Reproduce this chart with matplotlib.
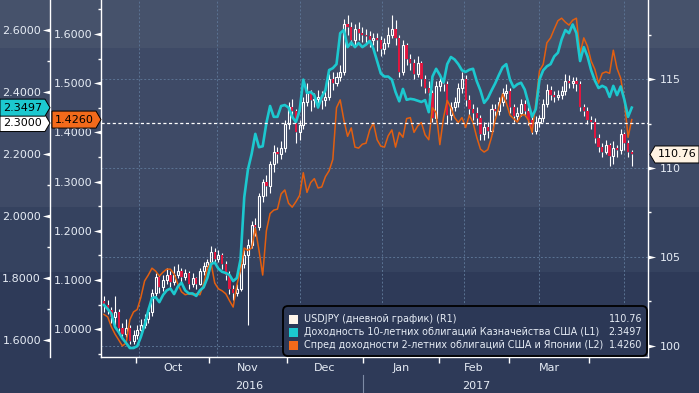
import numpy as np
import matplotlib.pyplot as plt
from matplotlib.path import Path
from matplotlib.patches import Rectangle, Polygon, FancyBboxPatch
from matplotlib.transforms import blended_transform_factory, IdentityTransform

# --- данные ---
usdjpy_open0 = 102.5
usdjpy_close = [
    102.3, 102.0, 101.6, 101.9, 101.0, 100.7, 101.0, 100.3, 100.6, 100.9,
    101.2, 101.5, 101.9, 103.0, 103.9, 103.3, 103.7, 104.0, 103.6, 104.0,
    104.2, 103.9, 104.1, 103.5, 103.8, 103.5, 104.2, 104.5, 104.7, 105.3,
    104.9, 105.1, 104.6, 104.0, 103.2, 103.0, 103.2, 104.6, 105.1, 105.7,
    106.8, 106.7, 108.4, 109.2, 109.0, 110.2, 110.9, 110.8, 111.1, 112.5,
    113.4, 113.2, 112.0, 112.4, 113.7, 114.2, 113.8, 113.9, 114.0, 113.8,
    114.0, 115.0, 114.8, 115.1, 115.4, 118.1, 117.9, 117.2, 117.8, 117.6,
    117.5, 117.4, 117.2, 117.3, 117.2, 116.7, 117.0, 117.5, 117.8, 117.3,
    115.4, 116.9, 116.1, 115.9, 115.3, 115.9, 115.0, 114.5, 114.2, 112.8,
    114.6, 114.9, 114.7, 113.0, 113.4, 113.7, 114.5, 115.0, 113.8, 113.3,
    113.1, 112.8, 111.9, 112.3, 112.1, 113.3, 113.2, 113.7, 114.2, 114.3,
    113.4, 112.9, 113.1, 113.6, 113.2, 112.7, 112.1, 112.6, 112.8, 113.6,
    114.4, 114.1, 114.0, 114.1, 114.3, 114.9, 114.8, 114.9, 114.7, 113.4,
    113.2, 112.7, 112.6, 111.7, 111.2, 110.9, 111.3, 110.7, 111.1, 111.0,
    111.9, 111.4, 110.9, 110.76]
usdjpy_high = [
    102.8, 102.6, 102.2, 102.8, 102.1, 101.3, 101.5, 101.2, 100.9, 101.2,
    101.5, 101.8, 102.2, 103.2, 104.1, 104.0, 104.0, 104.4, 104.2, 104.5,
    104.6, 104.4, 104.3, 104.2, 104.1, 103.9, 104.4, 104.7, 104.9, 105.6,
    105.5, 105.4, 105.2, 104.8, 104.2, 103.4, 103.5, 104.8, 105.4, 106.0,
    107.0, 107.2, 108.6, 109.4, 109.6, 110.4, 111.3, 111.2, 111.5, 112.7,
    113.7, 113.9, 113.3, 112.7, 114.0, 114.8, 114.4, 114.2, 114.4, 114.3,
    114.5, 115.3, 115.4, 115.4, 115.8, 118.4, 118.6, 118.2, 118.1, 118.2,
    117.9, 117.8, 117.7, 117.6, 117.6, 117.4, 117.3, 117.9, 118.6, 118.3,
    117.5, 117.2, 117.0, 116.4, 116.1, 116.3, 116.0, 115.2, 114.9, 114.4,
    114.9, 115.3, 115.1, 114.9, 113.7, 114.0, 114.8, 115.4, 115.2, 114.1,
    113.6, 113.4, 113.0, 112.6, 112.6, 113.6, 113.6, 114.0, 114.5, 114.7,
    114.5, 113.6, 113.4, 113.9, 113.8, 113.4, 112.9, 112.9, 113.0, 113.9,
    114.7, 114.6, 114.3, 114.4, 114.6, 115.3, 115.2, 115.1, 115.1, 114.9,
    113.6, 113.4, 112.9, 112.8, 111.9, 111.4, 111.6, 111.4, 111.5, 111.3,
    112.2, 112.0, 111.6, 111.0]
usdjpy_low = [
    101.9, 101.8, 101.3, 101.2, 100.8, 100.4, 100.5, 100.1, 100.1, 100.4,
    100.7, 101.0, 101.3, 101.7, 102.8, 103.0, 103.1, 103.5, 103.3, 103.4,
    103.8, 103.6, 103.7, 103.2, 103.3, 103.2, 103.4, 104.0, 104.3, 104.5,
    104.6, 104.7, 104.3, 103.7, 102.9, 102.6, 102.8, 103.1, 104.4, 101.2,
    105.5, 106.2, 106.5, 108.1, 108.4, 108.6, 109.8, 110.3, 110.5, 110.9,
    112.2, 112.8, 111.4, 111.6, 112.2, 113.5, 113.2, 113.4, 113.6, 113.3,
    113.5, 113.8, 114.4, 114.6, 114.9, 115.2, 117.5, 116.9, 116.9, 117.2,
    117.1, 117.0, 116.8, 116.9, 116.6, 116.3, 116.4, 116.8, 117.3, 116.9,
    115.1, 115.2, 115.8, 115.5, 115.0, 115.1, 114.6, 114.2, 113.8, 112.6,
    112.6, 114.3, 114.3, 112.5, 112.7, 113.2, 113.4, 114.2, 113.5, 113.0,
    112.7, 112.4, 111.6, 111.6, 111.7, 111.9, 112.9, 113.0, 113.5, 113.9,
    113.1, 112.6, 112.7, 112.9, 112.9, 112.4, 111.9, 111.9, 112.3, 112.6,
    113.4, 113.8, 113.7, 113.8, 113.9, 114.1, 114.5, 114.5, 114.3, 113.2,
    112.9, 112.5, 112.2, 111.4, 110.9, 110.6, 110.8, 110.1, 110.2, 110.6,
    110.8, 111.0, 110.6, 110.1]
ust10_yield = [
    1.713, 1.700, 1.685, 1.642, 1.625, 1.605, 1.590, 1.574, 1.574, 1.580,
    1.610, 1.648, 1.695, 1.735, 1.738, 1.722, 1.745, 1.760, 1.766, 1.748,
    1.772, 1.785, 1.760, 1.750, 1.750, 1.742, 1.760, 1.770, 1.800, 1.845,
    1.850, 1.830, 1.820, 1.816, 1.810, 1.790, 1.800, 1.860, 2.060, 2.150,
    2.200, 2.265, 2.222, 2.225, 2.300, 2.355, 2.320, 2.320, 2.355, 2.358,
    2.350, 2.320, 2.303, 2.340, 2.440, 2.397, 2.400, 2.390, 2.350, 2.384,
    2.406, 2.471, 2.477, 2.490, 2.590, 2.600, 2.545, 2.560, 2.545, 2.558,
    2.545, 2.553, 2.565, 2.540, 2.500, 2.460, 2.450, 2.450, 2.440, 2.400,
    2.370, 2.410, 2.375, 2.378, 2.376, 2.372, 2.368, 2.374, 2.335, 2.450,
    2.475, 2.455, 2.430, 2.490, 2.513, 2.505, 2.490, 2.470, 2.465, 2.472,
    2.475, 2.435, 2.405, 2.365, 2.380, 2.405, 2.428, 2.455, 2.480, 2.490,
    2.440, 2.415, 2.425, 2.430, 2.408, 2.364, 2.320, 2.345, 2.440, 2.470,
    2.483, 2.490, 2.515, 2.527, 2.570, 2.600, 2.590, 2.618, 2.590, 2.500,
    2.545, 2.515, 2.470, 2.437, 2.413, 2.420, 2.414, 2.384, 2.420, 2.390,
    2.418, 2.375, 2.320, 2.3497]
us_jp_2y_spread = [
    1.030, 1.025, 1.005, 0.990, 0.978, 0.966, 0.972, 1.019, 1.035, 1.040,
    1.065, 1.098, 1.110, 1.124, 1.118, 1.108, 1.116, 1.122, 1.122, 1.112,
    1.092, 1.076, 1.070, 1.072, 1.070, 1.072, 1.070, 1.092, 1.124, 1.135,
    1.094, 1.082, 1.078, 1.072, 1.058, 1.045, 1.090, 1.120, 1.165, 1.160,
    1.165, 1.205, 1.160, 1.110, 1.200, 1.235, 1.242, 1.244, 1.275, 1.283,
    1.256, 1.248, 1.259, 1.272, 1.318, 1.278, 1.298, 1.306, 1.287, 1.289,
    1.310, 1.322, 1.345, 1.450, 1.466, 1.425, 1.392, 1.409, 1.370, 1.368,
    1.376, 1.378, 1.405, 1.419, 1.385, 1.372, 1.370, 1.393, 1.405, 1.370,
    1.400, 1.390, 1.428, 1.430, 1.400, 1.413, 1.420, 1.395, 1.385, 1.450,
    1.440, 1.375, 1.430, 1.465, 1.450, 1.430, 1.420, 1.430, 1.410, 1.435,
    1.420, 1.390, 1.366, 1.360, 1.365, 1.390, 1.425, 1.452, 1.478, 1.460,
    1.435, 1.428, 1.421, 1.435, 1.436, 1.425, 1.400, 1.460, 1.525, 1.538,
    1.582, 1.592, 1.610, 1.627, 1.632, 1.624, 1.618, 1.628, 1.632, 1.560,
    1.592, 1.575, 1.545, 1.528, 1.500, 1.520, 1.523, 1.520, 1.567, 1.530,
    1.510, 1.465, 1.390, 1.426]

months = ['Oct', 'Nov', 'Dec', 'Jan', 'Feb', 'Mar']
years = ['2016', '2017']
legend_labels = ['USDJPY (дневной график) (R1)',
                 'Доходность 10-летних облигаций Казначейства США (L1)',
                 'Спред доходности 2-летних облигаций США и Японии (L2)']

# границы месяцев и сетка (в номерах торговых дней)
month_edges = [8.67, 28.46, 49.59, 70.19, 90.79, 109.76, 131.44]
grid_days = [9.49, 30.62, 53.12, 75.34, 97.56, 117.89, 140.92]
year_split = 70.19

W, H = 699, 393
TXT = '#e6ecf5'
GRID = '#5b7393'
CYAN = '#1cc8cf'
ORANGE = '#e35f10'
RED = '#e0173f'

fig = plt.figure(figsize=(W / 100, H / 100), dpi=100)
fig.patch.set_facecolor('#2e3a58')
for y0, y1, col in [(0, 48, '#46526b'), (48, 207, '#3e4a66'),
                    (207, 272, '#35425f'), (272, 393, '#2e3a58')]:
    fig.add_artist(Rectangle((0, 1 - y1 / H), 1, (y1 - y0) / H, transform=fig.transFigure,
                             fc=col, ec='none', zorder=-10))

ax = fig.add_axes([101 / W, 36 / H, 547 / W, 357 / H])
ax.set_facecolor('none')
ax_l2 = ax.twinx()
ax_l1 = ax.twinx()

x = np.arange(len(usdjpy_close))
c = np.array(usdjpy_close)
o = np.r_[usdjpy_open0, c[:-1]]
hi = np.array(usdjpy_high)
lo = np.array(usdjpy_low)
up = c >= o
top = np.maximum(o, c)
bot = np.minimum(o, c)

# свечи USDJPY
ax.vlines(x, top, hi, color='white', lw=0.8, zorder=2)
ax.vlines(x, lo, bot, color='white', lw=0.8, zorder=2)
ax.bar(x[~up], (top - bot)[~up], bottom=bot[~up], width=0.62, color=RED, lw=0, zorder=3)
ax.bar(x[up], (top - bot)[up], bottom=bot[up], width=0.55, facecolor='none',
       edgecolor='white', lw=0.8, zorder=3)

ax_l2.plot(x, us_jp_2y_spread, color=ORANGE, lw=1.1)
ax_l1.plot(x, ust10_yield, color=CYAN, lw=1.9)
ax_l1.axhline(2.3, color='white', lw=0.9, ls=(0, (2.5, 2)))

ax.set_xlim(-0.81, 147.4)
ax.set_ylim(99.38, 119.44)
ax_l1.set_ylim(1.545, 2.697)
ax_l2.set_ylim(0.9435, 1.669)

# сетка
for g in grid_days:
    ax.axvline(g, color=GRID, lw=0.7, ls=(0, (2, 2)), zorder=1)
for v in [100, 105, 110, 115]:
    ax.axhline(v, color=GRID, lw=0.7, ls=(0, (2, 2)), zorder=1)

# оси
for a in (ax, ax_l1, ax_l2):
    for s in a.spines.values():
        s.set_visible(False)
ax.spines['right'].set_visible(True)
ax.spines['bottom'].set_visible(True)
ax_l2.spines['left'].set_visible(True)
ax_l1.spines['left'].set_visible(True)
ax_l1.spines['left'].set_position(('axes', -51 / 547))
for s in (ax.spines['right'], ax.spines['bottom'], ax_l2.spines['left'], ax_l1.spines['left']):
    s.set_color('white')
    s.set_linewidth(1.0)

ax.yaxis.tick_right()
ax.set_yticks([100, 105, 110, 115])
ax.set_yticks([102.5, 107.5, 112.5, 117.5], minor=True)
ax.set_yticklabels(['100', '105', '110', '115'])

for a in (ax_l1, ax_l2):
    a.yaxis.tick_left()
    a.yaxis.set_label_position('left')
ax_l1.set_yticks(np.round(np.arange(1.6, 2.61, 0.2), 1))
ax_l1.set_yticks(np.round(np.arange(1.7, 2.6, 0.2), 1), minor=True)
ax_l1.set_yticklabels(['%.4f' % v for v in ax_l1.get_yticks()])
ax_l2.set_yticks(np.round(np.arange(1.0, 1.61, 0.1), 1))
ax_l2.set_yticks(np.round(np.arange(0.95, 1.7, 0.1), 2), minor=True)
ax_l2.set_yticklabels(['%.4f' % v for v in ax_l2.get_yticks()])

ax.tick_params(axis='y', which='major', length=0, pad=8.5, labelsize=8, labelcolor=TXT)
ax_l1.tick_params(axis='y', which='major', length=0, pad=6.5, labelsize=8, labelcolor=TXT)
ax_l2.tick_params(axis='y', which='major', length=0, pad=6, labelsize=8, labelcolor=TXT)
for a in (ax, ax_l1, ax_l2):
    a.tick_params(axis='y', which='minor', length=2.5, width=1, color='white', direction='out')

ax.set_xticks(month_edges)
ax.set_xticklabels([''] * len(month_edges))
centers = [(a + b) / 2 for a, b in zip(month_edges[:-1], month_edges[1:])]
ax.set_xticks(centers, minor=True)
ax.set_xticklabels(months, minor=True)
ax.tick_params(axis='x', which='major', length=4, width=1, color='white', direction='out')
ax.tick_params(axis='x', which='minor', length=0, pad=4, labelsize=8, labelcolor=TXT)

bx = blended_transform_factory(ax.transData, ax.transAxes)
ax.text((month_edges[0] + year_split) / 2, -0.08, years[0], transform=bx,
        ha='center', va='center', fontsize=8, color=TXT)
ax.text((year_split + month_edges[-1]) / 2, -0.08, years[1], transform=bx,
        ha='center', va='center', fontsize=8, color=TXT)
ax.plot([year_split, year_split], [-0.05, -0.105], transform=bx, color='#7d8ba5',
        lw=0.8, clip_on=False)

# треугольные метки основных делений
tri_l = Path([(0, -1), (0, 1), (-4, 0), (0, -1)],
             [Path.MOVETO, Path.LINETO, Path.LINETO, Path.CLOSEPOLY])
tri_r = Path([(0, -1), (0, 1), (4, 0), (0, -1)],
             [Path.MOVETO, Path.LINETO, Path.LINETO, Path.CLOSEPOLY])
for a, xpos, mk in [(ax_l1, -51 / 547, tri_l), (ax_l2, 0, tri_l), (ax, 1, tri_r)]:
    t = blended_transform_factory(ax.transAxes, a.transData)
    yt = a.get_yticks()
    a.plot([xpos] * len(yt), yt, ls='none', marker=mk, ms=11, color='white',
           mec='none', transform=t, clip_on=False, zorder=10)


# ярлыки последних значений
def tag(ypix, tip, width, fc, txt, point='right'):
    h, p = 8.5, 5
    if point == 'right':
        xs = [tip - width, tip - p, tip, tip - p, tip - width]
        cx = tip - (width + p) / 2
    else:
        xs = [tip + width, tip + p, tip, tip + p, tip + width]
        cx = tip + (width + p) / 2
    ys = [ypix - h, ypix - h, ypix, ypix + h, ypix + h]
    fig.add_artist(Polygon(np.c_[xs, ys], closed=True, transform=IdentityTransform(),
                           fc=fc, ec='black', lw=0.7, zorder=20, clip_on=False))
    fig.text(cx / W, ypix / H, txt, ha='center', va='center', fontsize=8,
             color='black', zorder=21)


y_white = ax_l1.transData.transform((0, 2.3))[1]
y_cyan = min(ax_l1.transData.transform((0, ust10_yield[-1]))[1], y_white + 17)
tag(y_white, 50, 50, 'white', '2.3000')
tag(y_cyan, 50, 50, CYAN, '%.4f' % ust10_yield[-1])
tag(ax_l2.transData.transform((0, us_jp_2y_spread[-1]))[1], 101, 49, '#f26a1b',
    '%.4f' % us_jp_2y_spread[-1])
tag(ax.transData.transform((0, usdjpy_close[-1]))[1], 650, 49, '#fff3e3',
    '%.2f' % usdjpy_close[-1], point='left')

# легенда
fig.add_artist(FancyBboxPatch((283, H - 356), 364, 50, boxstyle='round,pad=0,rounding_size=5',
                              transform=IdentityTransform(), fc='#2c3856', ec='black',
                              lw=1.3, zorder=15))
vals = ['%.2f' % usdjpy_close[-1], '%.4f' % ust10_yield[-1], '%.4f' % us_jp_2y_spread[-1]]
for k, (lab, col, val) in enumerate(zip(legend_labels, ['#fff5ea', CYAN, '#f26a1b'], vals)):
    yc = H - (319 + 13 * k)
    fig.add_artist(Rectangle((289, yc - 4.5), 9, 9, transform=IdentityTransform(),
                             fc=col, ec='none', zorder=16))
    fig.text(304 / W, yc / H, lab, ha='left', va='center', fontsize=6.9, color=TXT, zorder=16)
    fig.text(642 / W, yc / H, val, ha='right', va='center', fontsize=6.9, color=TXT, zorder=16)

fig.savefig('out.png', dpi=100, facecolor=fig.get_facecolor())
